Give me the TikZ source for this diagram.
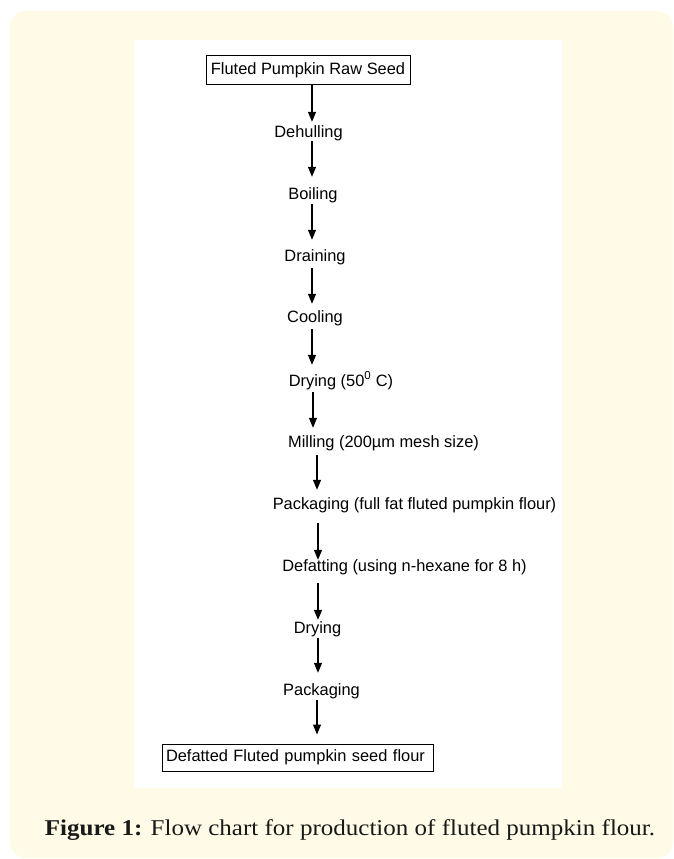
\documentclass[tikz,border=0pt]{standalone}
\usepackage{fontspec}
\usetikzlibrary{arrows.meta}
\newfontfamily\flowfont{Liberation Sans}
\newfontfamily\capfont{Liberation Serif}
\definecolor{panelbg}{RGB}{255,251,231}
\definecolor{captext}{RGB}{25,25,25}
\tikzset{
  lbl/.style={font=\flowfont\fontsize{16.4}{19}\selectfont, inner sep=0pt,
    text height=14.5pt, text depth=4pt, anchor=base},
  boxnode/.style={draw=black, line width=1pt, font=\flowfont\fontsize{16.4}{19}\selectfont,
    inner ysep=0pt},
  arr/.style={draw=black, line width=1.2pt, -{Triangle[width=8pt,length=10pt]}}
}
\begin{document}
\begin{tikzpicture}[x=1pt,y=-1pt]
\useasboundingbox (0,0) rectangle (674,859);
% panels
\fill[panelbg, rounded corners=16pt] (10,11) rectangle (673,858);
\fill[white] (134,40) rectangle (562,788);
% nodes
\node[boxnode, minimum width=204pt, minimum height=28pt, inner xsep=4pt] (raw) at (308,70) {Fluted Pumpkin Raw Seed};
\node[lbl] (dehull) at (308.5,137.2) {Dehulling};
\node[lbl] (boil) at (313,199.2) {Boiling};
\node[lbl] (drain) at (315,261.2) {Draining};
\node[lbl] (cool) at (315,322.2) {Cooling};
\node[lbl] (dry1) at (341,386.2) {Drying (50\textsuperscript{0} C)};
\node[lbl] (mill) at (383.5,447.2) {Milling (200µm mesh size)};
\node[lbl] (pack1) at (414.5,509.2) {Packaging (full fat fluted pumpkin flour)};
\node[lbl] (defat) at (404.5,571.2) {Defatting (using n-hexane for 8 h)};
\node[lbl] (dry2) at (317.5,633.2) {Drying};
\node[lbl] (pack2) at (321.5,695.2) {Packaging};
\node[boxnode, minimum width=271pt, minimum height=27pt, text width=263pt, inner xsep=4pt, align=left] (final) at (297.5,757.5) {Defatted Fluted pumpkin seed flour};
% connectors
\draw[arr, shorten >=0.7pt] (raw.south -| 312,0) -- (dehull.north -| 312,0);
\draw[arr, shorten >=7.7pt] (dehull.south -| 312,0) -- (boil.north -| 312,0);
\draw[arr, shorten <=0.8pt, shorten >=6.7pt] (boil.south -| 312,0) -- (drain.north -| 312,0);
\draw[arr, shorten <=2.8pt, shorten >=3.7pt] (drain.south -| 312,0) -- (cool.north -| 312,0);
\draw[arr, shorten <=2.8pt, shorten >=6.7pt] (cool.south -| 312,0) -- (dry1.north -| 312,0);
\draw[arr, shorten <=1.8pt, shorten >=4.7pt] (dry1.south -| 313,0) -- (mill.north -| 313,0);
\draw[arr, shorten <=3.8pt, shorten >=4.7pt] (mill.south -| 317,0) -- (pack1.north -| 317,0);
\draw[arr, shorten <=9.8pt, shorten >=-3.3pt] (pack1.south -| 318,0) -- (defat.north -| 318,0);
\draw[arr, shorten <=7.8pt, shorten >=-1.3pt] (defat.south -| 318,0) -- (dry2.north -| 318,0);
\draw[arr, shorten <=0.8pt, shorten >=7.7pt] (dry2.south -| 318,0) -- (pack2.north -| 318,0);
\draw[arr, shorten <=0.8pt, shorten >=9pt] (pack2.south -| 317,0) -- (final.north -| 317,0);
% caption
\node[anchor=base, inner sep=0pt, text=captext] (cap) at (350,835)
  {\scalebox{1.107}[1]{\capfont\fontsize{22.6}{26}\selectfont\textbf{Figure 1:} Flow chart for production of fluted pumpkin flour.}};
\end{tikzpicture}
\end{document}
